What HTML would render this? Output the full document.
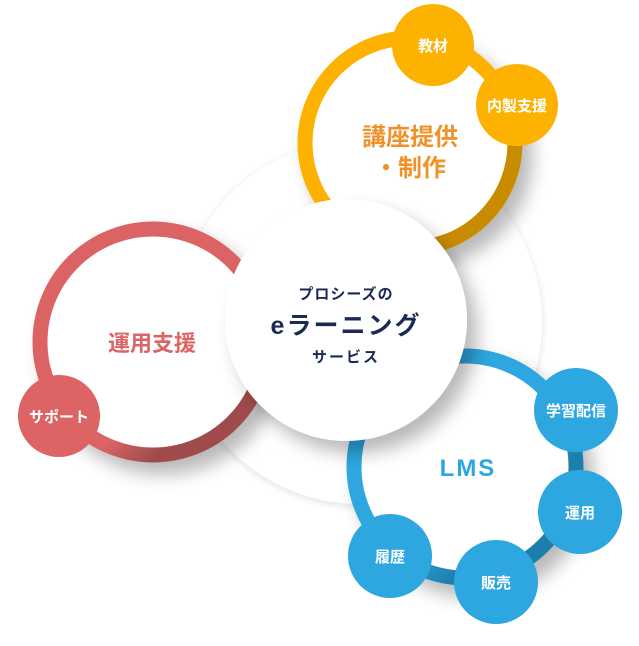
<!DOCTYPE html>
<html><head><meta charset="utf-8"><style>
html,body{margin:0;padding:0;background:#fff;}
svg{display:block;}
text{font-family:"Liberation Sans","Noto Sans CJK JP",sans-serif;font-weight:bold;}
</style></head><body>
<svg width="639" height="646" viewBox="0 0 639 646">
<defs>
<filter id="sh" x="-30%" y="-30%" width="170%" height="170%">
<feGaussianBlur in="SourceAlpha" stdDeviation="9"/>
<feOffset dx="10" dy="12"/>
<feComponentTransfer><feFuncA type="linear" slope="0.28"/></feComponentTransfer>
<feMerge><feMergeNode/><feMergeNode in="SourceGraphic"/></feMerge>
</filter>
<filter id="sh2" x="-30%" y="-30%" width="170%" height="170%">
<feGaussianBlur in="SourceAlpha" stdDeviation="4"/>
<feOffset dx="0" dy="2"/>
<feComponentTransfer><feFuncA type="linear" slope="0.12"/></feComponentTransfer>
<feMerge><feMergeNode/><feMergeNode in="SourceGraphic"/></feMerge>
</filter>
<linearGradient id="go" x1="0.3" y1="0.2" x2="0.9" y2="0.9"><stop offset="0.5" stop-color="#fdb100"/><stop offset="0.75" stop-color="#c98c00"/></linearGradient>
<linearGradient id="gr" x1="0.2" y1="0.3" x2="0.8" y2="1"><stop offset="0.6" stop-color="#dc6464"/><stop offset="0.8" stop-color="#a04c4c"/></linearGradient>
<linearGradient id="gb" x1="0.2" y1="0.2" x2="0.9" y2="0.9"><stop offset="0.5" stop-color="#2ea7e0"/><stop offset="0.75" stop-color="#1f7fae"/></linearGradient>
</defs>
<circle cx="360" cy="322" r="182" fill="#fff" filter="url(#sh2)"/>
<circle cx="410" cy="143" r="105" fill="#fff" stroke="url(#go)" stroke-width="15" filter="url(#sh)"/>
<circle cx="153" cy="342" r="113" fill="#fff" stroke="url(#gr)" stroke-width="15" filter="url(#sh)"/>
<circle cx="465" cy="467" r="111" fill="#fff" stroke="url(#gb)" stroke-width="15" filter="url(#sh)"/>
<circle cx="346" cy="320" r="121" fill="#fff" filter="url(#sh)"/>
<circle cx="433" cy="45" r="41" fill="#fdb100"/>
<circle cx="517" cy="105" r="41" fill="#fdb100"/>
<circle cx="59" cy="416" r="41" fill="#dc6464"/>
<circle cx="576" cy="410" r="42" fill="#2ea7e0"/>
<circle cx="580" cy="512" r="42" fill="#2ea7e0"/>
<circle cx="496" cy="582" r="42" fill="#2ea7e0"/>
<circle cx="390" cy="556" r="42" fill="#2ea7e0"/>
<g fill="#fff" font-size="15" text-anchor="middle">
<text x="433" y="51">教材</text>
<text x="517" y="111">内製支援</text>
<text x="59" y="422">サポート</text>
<text x="576" y="416">学習配信</text>
<text x="580" y="518">運用</text>
<text x="496" y="588">販売</text>
<text x="390" y="562">履歴</text>
</g>
<g fill="#f0922a" font-size="24" text-anchor="middle">
<text x="410" y="145">講座提供</text>
<text x="410" y="176">・制作</text>
</g>
<text x="152" y="351" fill="#dc6464" font-size="22" text-anchor="middle">運用支援</text>
<text x="468" y="476" fill="#2ea7e0" font-size="24" text-anchor="middle" letter-spacing="2">LMS</text>
<g fill="#1b2a52" text-anchor="middle">
<text x="346" y="299" font-size="15" letter-spacing="1">プロシーズの</text>
<text x="346" y="334" font-size="25" letter-spacing="2">eラーニング</text>
<text x="346" y="362" font-size="15" letter-spacing="2">サービス</text>
</g>
</svg>
</body></html>
